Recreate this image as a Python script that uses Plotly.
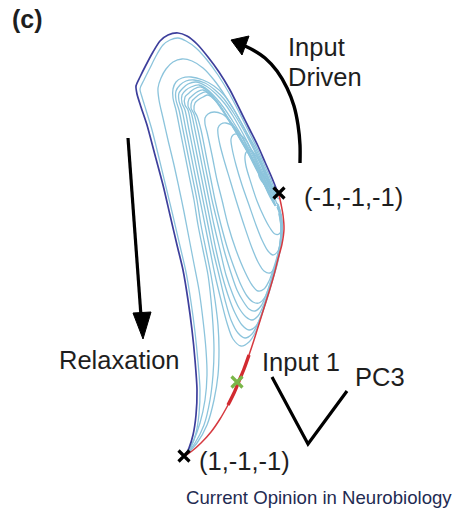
import plotly.graph_objects as go

# Canvas coordinates: x to the right, y downward (pixels of a 456x509 panel)
W, H = 456, 509

# ---- trajectories in the projected state space -------------------------
outer_orbit = [(278,193),(272,178),(265,162),(258,146),(250,130),(241,112),(230,90),(219,72),(208,57),
               (197,44),(187,36),(178,33),(168,35),(160,41),(153,52),(146,65),(140,77),(136,86),(137,94),
               (141,107),(147,125),(155,155),(163,185),(170,215),(177,245),(183,270),(188,300),(192,330),
               (195,360),(197,390),(196,415),(193,435),(189,448),(185,456)]

orbit_2 = [(277,196),(271,180),(264,164),(257,148),(249,132),(240,114),(229,93),(218,75),(207,60),(196,48),
           (186,41),(178,38),(170,40),(163,45),(156,56),(150,68),(144,80),(140,89),(142,97),(146,110),
           (152,130),(159,158),(166,187),(173,216),(180,246),(186,272),(191,302),(195,332),(198,362),
           (200,390),(199,414),(196,433),(191,447),(185,456)]

orbit_3 = [(276,197),(270,181),(263,165),(256,149),(247,133),(237,115),(226,97),(214,80),(203,68),(192,61),
           (182,59),(173,62),(166,69),(161,78),(158,88),(159,100),(163,118),(168,140),(174,165),(179,188),
           (184,212),(189,238),(194,264),(199,290),(203,320),(206,350),(207,375),(205,400),(200,423),
           (193,442),(185,456)]

bundle_0 = [(276,196),(271,185),(265,171),(258,156),(250,140),(242,124),(233,108),(224,95),(214,86),(203,80),
            (191,77),(182,78),(176,82),(173,89),(173,98),(176,110),(180,130),(185,155),(190,180),(194,200),
            (198,225),(203,250),(208,275),(211,300),(213,325),(214,350),(213,375),(210,400),(204,425),
            (195,443),(185,456)]

bundle_1 = [(276,198),(271,187),(265,173),(258,158),(250,142),(242,127),(233,112),(224,99),(215,90),(205,83),
            (194,80),(186,81),(180,85),(176,91),(176,100),(179,110),(183,130),(188,155),(193,180),(197,200),
            (201,225),(206,250),(211,275),(215,300),(218,325),(219,350),(218,375),(214,400),(207,425),
            (197,443),(185,456)]

bundle_2 = [(275,199),(270,188),(264,175),(257,160),(249,145),(241,130),(233,116),(225,104),(216,94),(206,86),
            (196,82),(188,84),(183,88),(179,93),(179,101),(182,110),(186,130),(191,155),(196,180),(200,200),
            (205,225),(210,250),(215,275),(221,300),(227,323),(233,339),(241,346),(249,342),(256,331),
            (262,314),(268,296),(273,279),(278,261),(281,245),(282,230),(281,216),(278,204)]

bundle_3 = [(275,200),(270,189),(263,176),(256,162),(248,147),(240,133),(232,120),(224,108),(216,98),(208,90),
            (199,85),(191,87),(186,90),(182,95),(182,103),(185,110),(189,130),(194,155),(199,180),(203,200),
            (208,225),(213,250),(219,275),(225,300),(231,320),(238,333),(245,338),(252,334),(259,321),
            (265,304),(270,287),(275,270),(279,254),(281,238),(282,223),(280,210),(277,203)]

bundle_4 = [(274,201),(269,190),(263,178),(256,164),(248,150),(240,137),(232,124),(225,113),(218,103),(210,93),
            (201,87),(194,89),(189,93),(185,97),(185,105),(188,110),(192,130),(197,155),(202,180),(206,200),
            (211,225),(216,250),(222,275),(229,298),(235,313),(242,325),(249,330),(256,326),(262,313),
            (267,298),(272,281),(277,264),(280,248),(282,232),(281,218),(278,206)]

bundle_5 = [(274,202),(269,192),(263,180),(256,166),(249,153),(241,140),(234,128),(227,117),(220,106),(212,96),
            (203,90),(197,92),(192,96),(189,99),(188,106),(191,112),(195,130),(200,155),(205,180),(209,200),
            (214,225),(220,250),(226,275),(233,295),(239,308),(246,317),(252,320),(258,316),(264,304),
            (269,290),(274,273),(278,257),(281,241),(282,225),(280,212),(277,205)]

bundle_6 = [(274,203),(269,193),(263,182),(257,169),(250,156),(243,144),(236,132),(229,121),(222,110),(214,99),
            (206,92),(200,94),(195,98),(192,101),(191,108),(194,114),(198,130),(203,155),(208,180),(212,200),
            (218,225),(224,250),(231,273),(237,290),(243,301),(249,309),(255,311),(261,306),(266,295),
            (271,281),(276,265),(279,250),(281,235),(281,220),(278,208)]

bundle_7 = [(274,204),(269,195),(264,184),(258,172),(252,160),(245,148),(238,136),(231,124),(224,112),(216,101),
            (208,95),(203,97),(198,100),(195,103),(194,110),(197,116),(201,130),(206,155),(211,180),(215,200),
            (221,225),(228,250),(235,270),(241,285),(247,296),(253,302),(259,303),(265,297),(269,287),
            (273,273),(277,259),(280,244),(281,229),(280,215),(277,207)]

inner_1 = [(275,205),(271,197),(266,188),(261,178),(255,167),(249,155),(243,143),(237,131),(230,121),(222,114),
           (214,112),(208,114),(205,118),(205,124),(207,132),(212,155),(217,180),(222,200),(228,225),(236,250),
           (245,272),(252,285),(258,291),(264,289),(269,281),(273,270),(277,257),(280,243),(281,228),(279,214)]

inner_2 = [(275,206),(271,197),(267,189),(262,179),(257,168),(251,156),(246,145),(240,134),(233,126),(226,123),
           (221,124),(218,128),(218,134),(220,145),(224,160),(230,180),(236,200),(244,225),(252,248),(258,262),
           (264,271),(270,273),(275,267),(279,255),(281,241),(281,226),(279,213)]

inner_3 = [(276,206),(273,199),(269,190),(265,180),(260,169),(255,158),(250,148),(245,139),(238,134),(233,135),
           (231,139),(232,148),(236,165),(242,185),(249,205),(256,225),(262,240),(268,251),(273,255),(278,251),
           (281,242),(282,228),(280,214)]

inner_4 = [(277,204),(273,194),(269,185),(265,175),(261,165),(256,156),(251,150),(247,151),(245,156),(246,166),
           (251,183),(257,201),(264,217),(270,228),(275,234),(279,234),(282,227),(281,214)]

inner_5 = [(278,196),(273,188),(267,180),(262,174),(259,172),(259,176),(263,183),(269,190),(275,196),(279,199)]

input_path = [(185,456),(192,451),(201,443),(211,432),(220,419),(228,405),(234,393),(239,381),(244,369),
              (249,355),(254,340),(259,324),(264,308),(269,292),(274,275),(278,259),(282,244),(284,229),
              (283,215),(281,204),(279,195)]
pulse_span = (5, 10)          # index range of the strongly driven stretch

fixed_points = [(279,193),(184,456)]
fixed_labels = ["(-1,-1,-1)", "(1,-1,-1)"]
input1_marker = (237,382)

# ---- annotation geometry ----------------------------------------------
driven_arrow = [(300,163),(300,145),(298,125),(294,106),(287,88),(277,71),(265,58),(253,50),(245,46)]
driven_head = [(231,40),(249,36),(242,55)]
relax_arrow = [(128,138),(141,316)]
relax_head = [(143,339),(133,313),(151,312)]
axis_glyph = [(272,377),(308,444),(347,391)]

LIGHT = "#8cc4dc"
DARK = "#3d3f9c"
RED = "#d63a40"
FONT = "Liberation Sans, Arial, Helvetica, sans-serif"

fig = go.Figure()

def curve(pts, color, width, smoothing=0.9):
    fig.add_trace(go.Scatter(
        x=[p[0] for p in pts], y=[p[1] for p in pts], mode="lines",
        line=dict(color=color, width=width, shape="spline", smoothing=smoothing),
        hoverinfo="skip", showlegend=False))

for orbit in [inner_5, inner_4, inner_3, inner_2, inner_1,
              bundle_7, bundle_6, bundle_5, bundle_4, bundle_3, bundle_2, bundle_1, bundle_0,
              orbit_3, orbit_2]:
    curve(orbit, LIGHT, 1.3)
curve(outer_orbit, DARK, 1.7, 0.7)
curve(input_path, RED, 1.5)
a, b = pulse_span
curve(input_path[a:b], "#d22a30", 3.4)

# arrows
curve(driven_arrow, "black", 3.4)
curve(relax_arrow, "black", 3.2)
for head in (driven_head, relax_head):
    fig.add_trace(go.Scatter(x=[p[0] for p in head] + [head[0][0]],
                             y=[p[1] for p in head] + [head[0][1]],
                             mode="lines", fill="toself", fillcolor="black",
                             line=dict(color="black", width=1),
                             hoverinfo="skip", showlegend=False))
fig.add_trace(go.Scatter(x=[p[0] for p in axis_glyph], y=[p[1] for p in axis_glyph], mode="lines",
                         line=dict(color="black", width=3.2), hoverinfo="skip", showlegend=False))

# fixed points and input marker
fig.add_trace(go.Scatter(x=[p[0] for p in fixed_points], y=[p[1] for p in fixed_points], mode="markers",
                         marker=dict(symbol="x-thin", size=11, line=dict(color="black", width=3.2)),
                         hoverinfo="skip", showlegend=False))
fig.add_trace(go.Scatter(x=[input1_marker[0]], y=[input1_marker[1]], mode="markers",
                         marker=dict(symbol="x-thin", size=11, line=dict(color="#7ab648", width=3.2)),
                         hoverinfo="skip", showlegend=False))

def label(text, x, y, size=25.5, bold=False, color="#1e1e1e", anchor="left"):
    fig.add_annotation(x=x, y=y, xref="x", yref="y", text=f"<b>{text}</b>" if bold else text,
                       showarrow=False, xanchor=anchor, yanchor="middle",
                       font=dict(family=FONT, size=size, color=color))

label("(c)", 10, 19, size=25, bold=True)
label("Input", 286, 47)
label("Driven", 286, 77)
label(fixed_labels[0], 302, 197)
label("Relaxation", 57, 360)
label("Input 1", 260, 362)
label("PC3", 353, 377)
label(fixed_labels[1], 197, 461)
label("Current Opinion in Neurobiology", 454, 497, size=18.6, color="#1f2b52", anchor="right")

fig.update_layout(
    width=W, height=H, margin=dict(l=0, r=0, t=0, b=0),
    paper_bgcolor="white", plot_bgcolor="white",
    xaxis=dict(range=[0, W], visible=False, fixedrange=True),
    yaxis=dict(range=[H, 0], visible=False, fixedrange=True),
)
fig.write_html("out.html", config={"displayModeBar": False})
